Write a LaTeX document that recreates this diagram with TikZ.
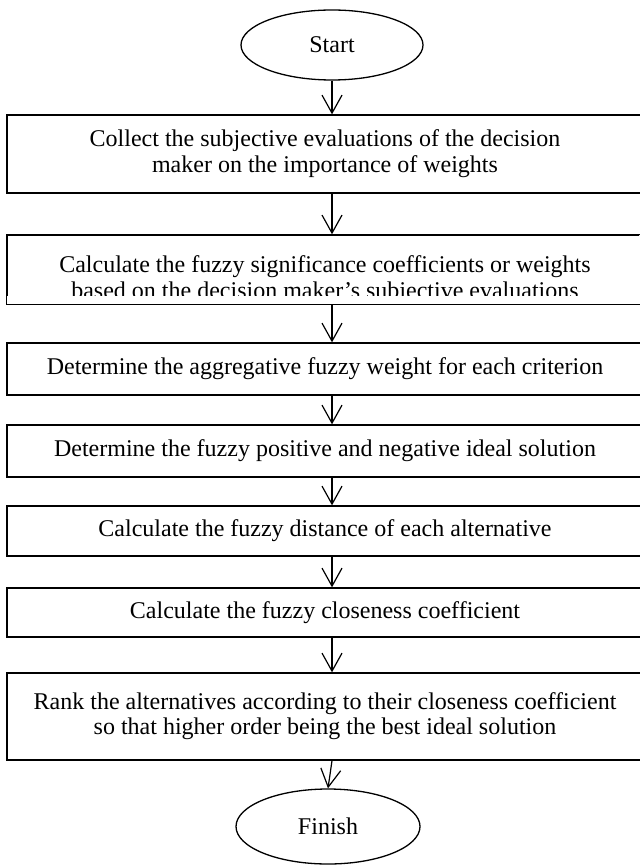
\documentclass[tikz,border=0pt]{standalone}
\usepackage{fontspec}
\setmainfont{Liberation Serif}
\usetikzlibrary{arrows.meta,shapes.geometric}

\begin{document}
\begin{tikzpicture}[x=0.5pt,y=-0.5pt,
		stepbox/.style={draw,line width=0.65pt,rectangle,minimum width=318pt,
			inner sep=0pt,align=center,font=\fontsize{12}{13}\selectfont},
		terminal/.style={draw,line width=0.65pt,ellipse,inner sep=0pt,
			font=\fontsize{12}{13}\selectfont},
		arr/.style={line width=0.6pt,-{Straight Barb[length=9pt,width=10pt]}}]
		
		% we fix the size of the page
		\useasboundingbox (0,0) rectangle (639,866);
		
		% we draw the start
		\node[terminal,minimum width=91pt,minimum height=35pt] (start) at (332,45) {Start};
		
		% we draw the steps
		\node[stepbox,minimum height=39pt] (b1) at (325,154)
		{Collect the subjective evaluations of the decision\\maker on the importance of weights};
		% the second step has its last line cut off
		\begin{scope}
			\clip (0,230) rectangle (639,295);
			\node[stepbox,minimum height=33.5pt] (b2) at (325,269.5)
			{\rule{0pt}{19pt}Calculate the fuzzy significance coefficients or weights\\based on the decision maker’s subjective evaluations};
		\end{scope}
		\draw[line width=0.65pt] (b2.north west) rectangle (b2.south east);
		\node[stepbox,minimum height=26pt] (b3) at (325,369)
		{Determine the aggregative fuzzy weight for each criterion};
		\node[stepbox,minimum height=26pt] (b4) at (325,451)
		{Determine the fuzzy positive and negative ideal solution};
		\node[stepbox,minimum height=25pt] (b5) at (325,531)
		{Calculate the fuzzy distance of each alternative};
		\node[stepbox,minimum height=24.5pt] (b6) at (325,612.5)
		{Calculate the fuzzy closeness coefficient};
		\node[stepbox,minimum height=43.5pt,font=\fontsize{12}{12.5}\selectfont] (b7) at (325,716.5)
		{Rank the alternatives according to their closeness coefficient\\so that higher order being the best ideal solution};
		
		% we draw the finish
		\node[terminal,minimum width=92pt,minimum height=37.5pt] (finish) at (328,826.5) {Finish};
		
		% we draw the arrows
		\draw[arr] (start.south) -- (start.south |- b1.north);
		\foreach \a/\b in {b1/b2,b2/b3,b3/b4,b4/b5,b5/b6,b6/b7}
		\draw[arr] (\a.south -| start) -- (\b.north -| start);
		\draw[arr] (b7.south -| start) -- (finish.north);
	\end{tikzpicture}
\end{document}
